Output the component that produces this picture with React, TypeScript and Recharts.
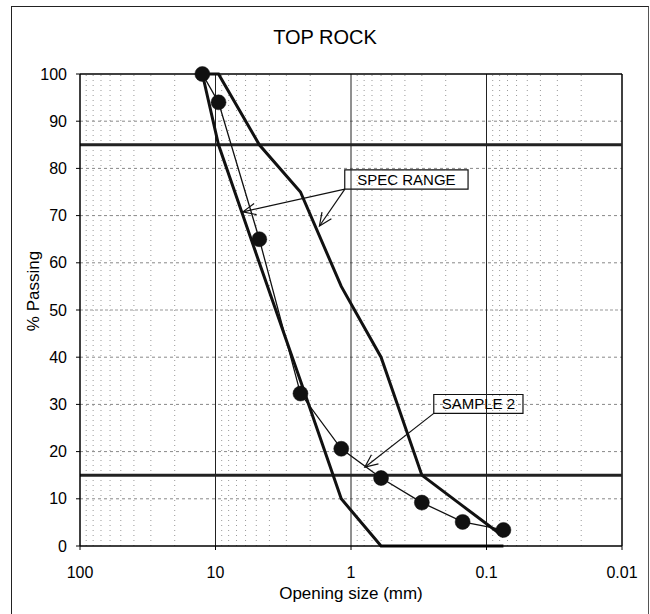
import React from 'react';
import {
  LineChart,
  Line,
  XAxis,
  YAxis,
  ReferenceLine,
  ReferenceArea,
} from 'recharts';

// sieve openings (mm) and % passing
const SIEVE_MM = [12.5, 9.5, 4.75, 2.36, 1.18, 0.6, 0.3, 0.15, 0.075];
const SAMPLE_2 = [100, 94, 65, 32.3, 20.6, 14.4, 9.2, 5.1, 3.4];
const SPEC_LOWER = [100, 85, 60, 35, 10, 0, 0, 0, 0];
const SPEC_UPPER = [100, 100, 85, 75, 55, 40, 15, 8.5, 2];

const X_TICKS = [100, 10, 1, 0.1, 0.01];
const Y_TICKS = [0, 10, 20, 30, 40, 50, 60, 70, 80, 90, 100];
const MAJOR_X = [10, 1, 0.1];
const MINOR_X = [
  90, 80, 70, 60, 50, 40, 30, 20,
  9, 8, 7, 6, 5, 4, 3, 2,
  0.9, 0.8, 0.7, 0.6, 0.5, 0.4, 0.3, 0.2,
  0.09, 0.08, 0.07, 0.06, 0.05, 0.04, 0.03, 0.02,
];
const H_GRID = [10, 20, 30, 40, 60, 70, 80, 90];
const SPEC_LIMITS = [15, 85];

const FONT = '"Liberation Sans", Arial, sans-serif';

const data = SIEVE_MM.map((size, i) => ({
  size,
  sample: SAMPLE_2[i],
  lower: SPEC_LOWER[i],
  upper: SPEC_UPPER[i],
}));

// line with an open arrow head at its second end
const Arrow = (props: any) => {
  const { x1, y1, x2, y2 } = props;
  const ang = Math.atan2(y2 - y1, x2 - x1);
  const len = 14;
  const spread = 0.42;
  const a = [x2 - len * Math.cos(ang - spread), y2 - len * Math.sin(ang - spread)];
  const b = [x2 - len * Math.cos(ang + spread), y2 - len * Math.sin(ang + spread)];
  return (
    <g>
      <line x1={x1} y1={y1} x2={x2} y2={y2} stroke="#111" strokeWidth={1.2} />
      <polyline
        points={`${a[0]},${a[1]} ${x2},${y2} ${b[0]},${b[1]}`}
        fill="none"
        stroke="#111"
        strokeWidth={1.2}
      />
    </g>
  );
};

const YLabel = (props: any) => {
  const vb = props.viewBox;
  const x = vb.x + 39;
  const y = vb.y + vb.height / 2 - 19;
  return (
    <text
      x={x}
      y={y}
      transform={`rotate(-90, ${x}, ${y})`}
      textAnchor="middle"
      fontSize={17}
      fontFamily={FONT}
      fill="#000"
    >
      % Passing
    </text>
  );
};

export default function App() {
  return (
    <div style={{ position: 'absolute', left: 0, top: 0, width: 650, height: 614, background: '#fff', overflow: 'hidden' }}>
      <div
        style={{
          position: 'absolute',
          left: 11,
          top: 6,
          width: 636,
          height: 610,
          borderLeft: '1.5px solid #222',
          borderTop: '1.5px solid #222',
          borderRight: '1.5px solid #555',
        }}
      />
      <div
        style={{
          position: 'absolute',
          left: 0,
          top: 27,
          width: 650,
          textAlign: 'center',
          fontFamily: FONT,
          fontSize: 20,
          lineHeight: '20px',
          color: '#000',
        }}
      >
        TOP ROCK
      </div>
      <div style={{ position: 'absolute', left: 0, top: 0 }}>
        <LineChart
          width={650}
          height={614}
          data={data}
          margin={{ top: 74, right: 28, bottom: 0, left: 0 }}
        >
          <XAxis
            dataKey="size"
            type="number"
            scale="log"
            domain={[0.01, 100]}
            reversed
            allowDataOverflow
            ticks={X_TICKS}
            tickFormatter={(v: number) => String(v)}
            height={68}
            tickSize={4}
            tickMargin={17}
            axisLine={{ stroke: '#000', strokeWidth: 1.5 }}
            tickLine={{ stroke: '#000' }}
            tick={{ fill: '#000', fontSize: 16, fontFamily: FONT }}
            label={{
              value: 'Opening size (mm)',
              position: 'insideBottom',
              offset: 15,
              fill: '#000',
              fontSize: 17,
              fontFamily: FONT,
            }}
          />
          <YAxis
            type="number"
            domain={[0, 100]}
            ticks={Y_TICKS}
            width={80}
            tickSize={4}
            tickMargin={9}
            axisLine={{ stroke: '#000', strokeWidth: 1.5 }}
            tickLine={{ stroke: '#000' }}
            tick={{ fill: '#000', fontSize: 16, fontFamily: FONT }}
            label={{ content: YLabel }}
          />

          {MINOR_X.map((v) => (
            <ReferenceLine key={'mx' + v} x={v} stroke="#999" strokeWidth={1} strokeDasharray="1 4" />
          ))}
          {H_GRID.map((v) => (
            <ReferenceLine key={'hy' + v} y={v} stroke="#888" strokeWidth={1} strokeDasharray="3 3" />
          ))}
          <ReferenceLine y={50} stroke="#bbb" strokeWidth={1.5} strokeDasharray="3 2" />
          {MAJOR_X.map((v) => (
            <ReferenceLine key={'MX' + v} x={v} stroke="#222" strokeWidth={1} />
          ))}
          <ReferenceLine y={100} stroke="#000" strokeWidth={1.5} />
          <ReferenceLine x={0.01} stroke="#000" strokeWidth={1.5} />
          {SPEC_LIMITS.map((v) => (
            <ReferenceLine key={'sl' + v} y={v} stroke="#222" strokeWidth={3} />
          ))}

          <Line
            dataKey="lower"
            type="linear"
            stroke="#111"
            strokeWidth={3}
            dot={false}
            isAnimationActive={false}
          />
          <Line
            dataKey="upper"
            type="linear"
            stroke="#111"
            strokeWidth={3}
            dot={false}
            isAnimationActive={false}
          />
          <Line
            dataKey="sample"
            type="linear"
            stroke="#111"
            strokeWidth={1.3}
            dot={{ r: 7.5, fill: '#111', stroke: '#111', strokeWidth: 0.5 }}
            isAnimationActive={false}
          />

          <ReferenceLine segment={[{ x: 1.11, y: 75.6 }, { x: 6.28, y: 70.8 }]} shape={Arrow} />
          <ReferenceLine segment={[{ x: 1.11, y: 75.6 }, { x: 1.71, y: 67.8 }]} shape={Arrow} />
          <ReferenceLine segment={[{ x: 0.245, y: 28.1 }, { x: 0.79, y: 16.7 }]} shape={Arrow} />

          <ReferenceArea
            x1={1.112}
            x2={0.1368}
            y1={75.6}
            y2={79.7}
            fill="#fff"
            fillOpacity={1}
            stroke="#111"
            strokeWidth={1.2}
            label={{ value: 'SPEC RANGE', position: 'center', fill: '#000', fontSize: 15, fontFamily: FONT }}
          />
          <ReferenceArea
            x1={0.245}
            x2={0.0538}
            y1={28.1}
            y2={32.1}
            fill="#fff"
            fillOpacity={1}
            stroke="#111"
            strokeWidth={1.2}
            label={{ value: 'SAMPLE 2', position: 'center', fill: '#000', fontSize: 15, fontFamily: FONT }}
          />
        </LineChart>
      </div>
    </div>
  );
}
